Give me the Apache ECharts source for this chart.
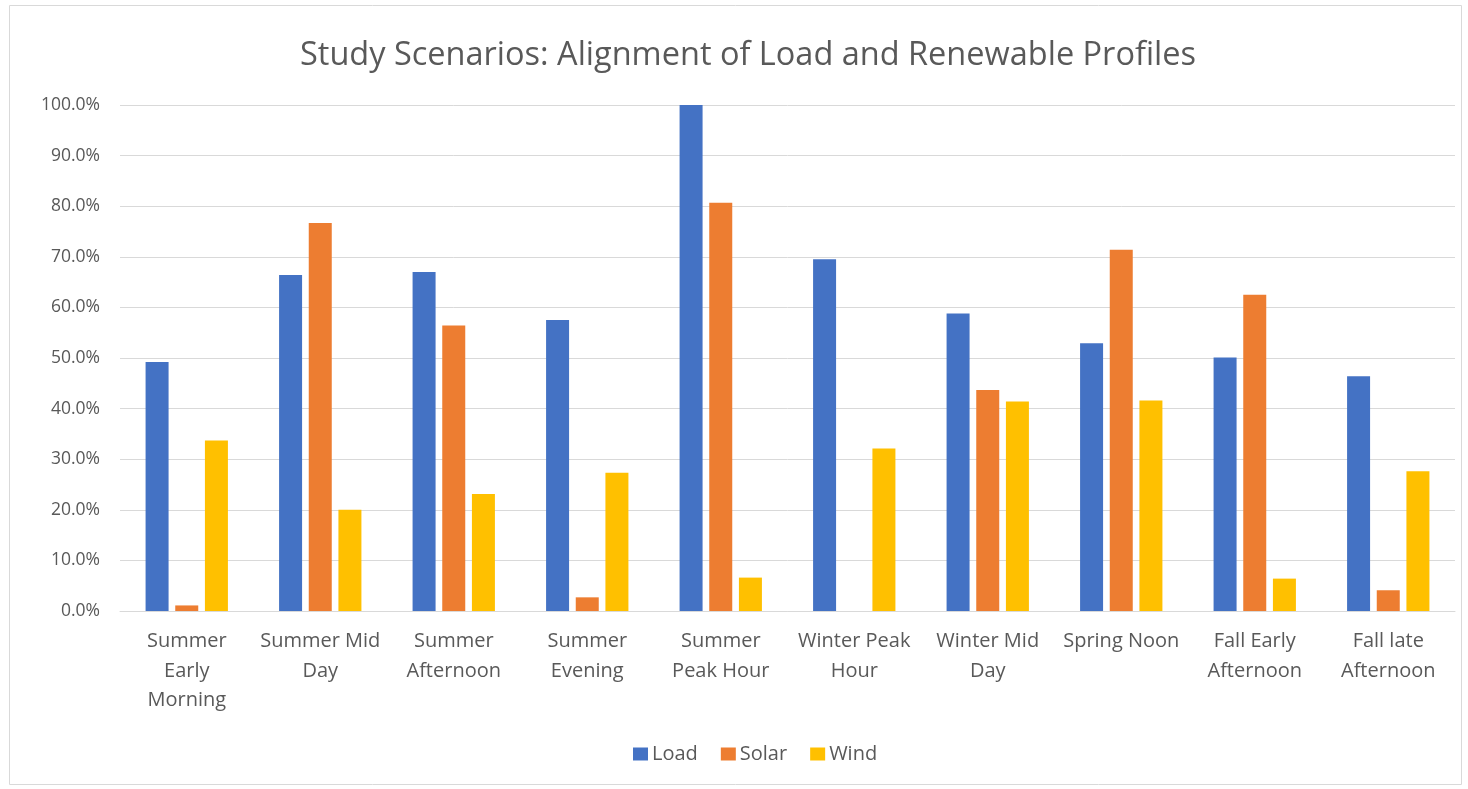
<!DOCTYPE html>
<html>
<head>
<meta charset="utf-8">
<script src="https://cdn.jsdelivr.net/npm/echarts@6/dist/echarts.min.js"></script>
<style>
html,body{margin:0;padding:0;background:#fff;}
#chart{width:1468px;height:789px;}
</style>
</head>
<body>
<div id="chart"></div>
<script>
const categories = ["Summer\nEarly\nMorning","Summer Mid\nDay","Summer\nAfternoon","Summer\nEvening","Summer\nPeak Hour","Winter Peak\nHour","Winter Mid\nDay","Spring Noon","Fall Early\nAfternoon","Fall late\nAfternoon"];
const loadValues  = [49.2, 66.4, 67.0, 57.5, 100.0, 69.5, 58.8, 52.9, 50.1, 46.4];
const solarValues = [1.1, 76.7, 56.4, 2.7, 80.7, 0.0, 43.7, 71.4, 62.5, 4.1];
const windValues  = [33.7, 20.0, 23.1, 27.3, 6.6, 32.1, 41.4, 41.6, 6.4, 27.6];
const yTicks = {min: 0, max: 100, interval: 10};

const chart = echarts.init(document.getElementById('chart'));
const FONT = 'Open Sans';
const TXT = '#595959';
chart.setOption({
  animation: false,
  textStyle: {fontFamily: FONT},
  graphic: [{type:'rect', shape:{x:9.5,y:5.5,width:1452,height:779}, style:{fill:'none', stroke:'#d9d9d9', lineWidth:1}, silent:true}],
  title: {
    text: 'Study Scenarios: Alignment of Load and Renewable Profiles',
    left: 295, top: 34,
    textStyle: {fontFamily: FONT, fontSize: 32.5, fontWeight: 'normal', color: TXT}
  },
  legend: {
    data: ['Load','Solar','Wind'],
    bottom: 20, left: 628,
    itemWidth: 15, itemHeight: 13, itemGap: 23,
    icon: 'rect',
    textStyle: {fontFamily: FONT, fontSize: 20, color: TXT, padding:[0,0,0,-1]}
  },
  grid: {left: 120, right: 13, top: 105, bottom: 178, containLabel: false},
  xAxis: {
    type: 'category',
    data: categories,
    axisTick: {show: false},
    axisLine: {lineStyle: {color: '#d9d9d9', width: 1}},
    axisLabel: {fontFamily: FONT, fontSize: 20, color: TXT, lineHeight: 29.5, margin: 16, interval: 0}
  },
  yAxis: {
    type: 'value',
    min: yTicks.min, max: yTicks.max, interval: yTicks.interval,
    axisLine: {show: false}, axisTick: {show: false},
    splitLine: {lineStyle: {color: '#d9d9d9', width: 1}},
    axisLabel: {fontFamily: FONT, fontSize: 17.5, color: TXT, margin: 20, formatter: v => v.toFixed(1) + '%'}
  },
  series: [
    {name:'Load', type:'bar', data: loadValues, barWidth: 23, barGap: '29%', itemStyle:{color:'#4472C4'}},
    {name:'Solar', type:'bar', data: solarValues, barWidth: 23, barGap: '29%', itemStyle:{color:'#ED7D31'}},
    {name:'Wind', type:'bar', data: windValues, barWidth: 23, barGap: '29%', itemStyle:{color:'#FFC000'}}
  ]
});
</script>
</body>
</html>
